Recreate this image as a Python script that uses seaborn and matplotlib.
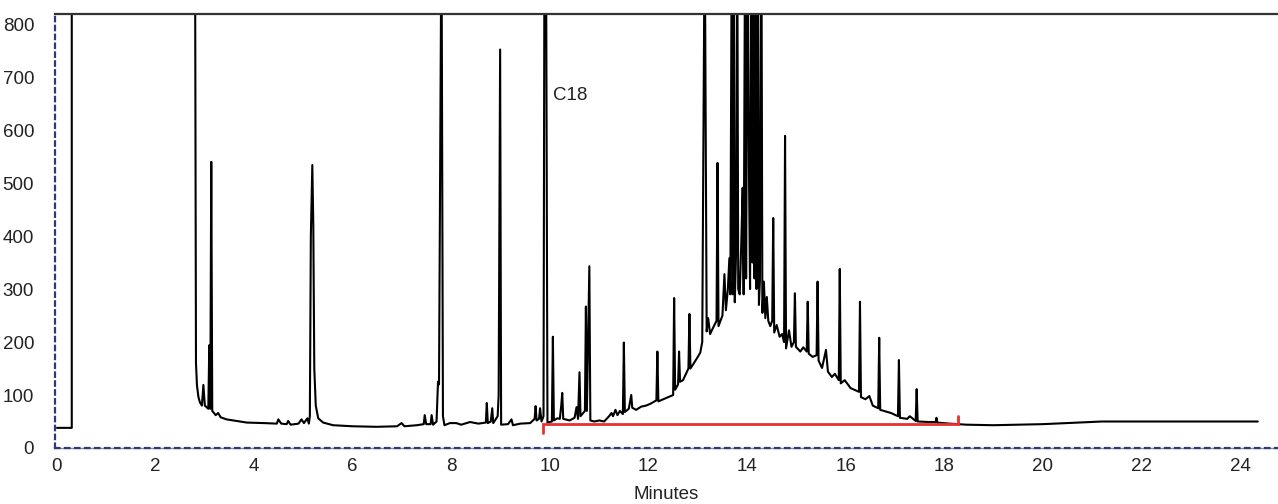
import matplotlib
matplotlib.use("Agg")
import matplotlib.pyplot as plt
import seaborn as sns
import pandas as pd

# ---- data (minutes, detector response) ----
minutes = [
    0.00, 0.30, 0.30, 2.80, 2.82, 2.84, 2.87, 2.90, 2.94, 2.97, 3.00, 3.07, 3.09, 3.11,
    3.13, 3.15, 3.22, 3.27, 3.32, 3.44, 3.85, 4.20, 4.46, 4.49, 4.55, 4.66, 4.69, 4.74,
    4.90, 4.96, 5.01, 5.08, 5.11, 5.13, 5.15, 5.18, 5.20, 5.22, 5.25, 5.30, 5.40, 5.60,
    6.00, 6.48, 6.90, 6.99, 7.05, 7.30, 7.44, 7.46, 7.49, 7.58, 7.60, 7.63, 7.70, 7.73,
    7.75, 7.80, 7.83, 7.86, 7.97, 8.10, 8.20, 8.38, 8.55, 8.70, 8.72, 8.74, 8.80, 8.83,
    8.85, 8.94, 8.96, 8.99, 9.01, 9.15, 9.22, 9.25, 9.40, 9.60, 9.69, 9.71, 9.73, 9.78,
    9.80, 9.83, 9.87, 9.89, 9.92, 9.95, 10.04, 10.06, 10.08, 10.15, 10.20, 10.23, 10.25,
    10.27, 10.40, 10.50, 10.54, 10.57, 10.60, 10.62, 10.71, 10.73, 10.75, 10.80, 10.82,
    10.90, 11.00, 11.10, 11.20, 11.25, 11.28, 11.33, 11.37, 11.42, 11.48, 11.50, 11.52,
    11.60, 11.65, 11.67, 11.75, 11.85, 11.95, 12.05, 12.16, 12.18, 12.20, 12.30, 12.40,
    12.50, 12.52, 12.54, 12.60, 12.62, 12.64, 12.70, 12.76, 12.81, 12.83, 12.85, 12.92,
    13.00, 13.05, 13.09, 13.14, 13.18, 13.21, 13.25, 13.30, 13.38, 13.40, 13.42, 13.50,
    13.54, 13.57, 13.61, 13.64, 13.66, 13.69, 13.71, 13.73, 13.75, 13.78, 13.80, 13.82,
    13.85, 13.88, 13.91, 13.93, 13.96, 13.98, 14.01, 14.04, 14.06, 14.09, 14.11, 14.13,
    14.15, 14.17, 14.19, 14.22, 14.24, 14.26, 14.29, 14.31, 14.34, 14.37, 14.40, 14.43,
    14.47, 14.51, 14.53, 14.55, 14.60, 14.66, 14.71, 14.75, 14.77, 14.79, 14.85, 14.90,
    14.95, 14.97, 14.99, 15.08, 15.14, 15.21, 15.23, 15.25, 15.33, 15.41, 15.43, 15.45,
    15.52, 15.60, 15.64, 15.72, 15.78, 15.86, 15.88, 15.90, 15.98, 16.10, 16.27, 16.29,
    16.31, 16.40, 16.48, 16.55, 16.66, 16.68, 16.70, 16.85, 16.92, 17.06, 17.08, 17.10,
    17.25, 17.30, 17.42, 17.44, 17.46, 17.70, 17.83, 17.84, 17.86, 18.10, 18.45, 19.00,
    19.50, 20.00, 20.50, 21.00, 21.20, 24.36,
]
response = [
    38, 38, 1000, 1000, 160, 118, 96, 86, 80, 119, 80, 74, 194, 74,
    540, 70, 62, 66, 58, 54, 48, 47, 46, 54, 46, 45, 51, 44,
    46, 54, 47, 56, 46, 60, 400, 534, 420, 150, 80, 56, 48, 43,
    41, 40, 41, 47, 41, 43, 45, 62, 45, 45, 62, 44, 50, 125,
    120, 1000, 60, 43, 47, 47, 44, 49, 46, 48, 85, 47, 50, 75,
    47, 60, 100, 752, 44, 45, 54, 43, 46, 47, 55, 79, 52, 55,
    75, 50, 60, 1000, 1000, 48, 50, 210, 52, 56, 55, 80, 104,
    55, 52, 57, 77, 55, 143, 60, 70, 267, 70, 343, 52,
    50, 52, 50, 60, 66, 60, 72, 62, 70, 64, 199, 68,
    74, 100, 76, 72, 78, 80, 84, 90, 182, 88, 92, 96,
    100, 283, 110, 120, 182, 125, 128, 140, 150, 253, 150, 160,
    172, 180, 200, 1000, 220, 245, 215, 225, 240, 538, 230, 250,
    328, 260, 300, 358, 290, 1000, 290, 1000, 275, 380, 1000, 300,
    290, 380, 491, 290, 1000, 320, 1000, 500, 300, 1000, 350, 1000,
    320, 1000, 300, 1000, 270, 317, 1000, 255, 314, 245, 285, 240,
    230, 240, 434, 218, 232, 210, 215, 200, 589, 188, 222, 191,
    200, 292, 191, 182, 190, 182, 276, 178, 172, 175, 314, 165,
    151, 185, 144, 134, 140, 128, 338, 122, 128, 113, 106, 276,
    96, 92, 98, 80, 75, 208, 72, 68, 66, 60, 166, 57,
    55, 60, 51, 111, 50, 49, 49, 57, 48, 46, 44, 43,
    44, 45, 47, 49, 50, 50,
]

bracket_minutes = [9.86, 18.28]     # red integration bracket
bracket_level = 45
bracket_left_end = 28
bracket_right_end = 60

label_text = "C18"
label_pos = (10.06, 666)

x_ticks = list(range(0, 25, 2))
y_ticks = list(range(0, 801, 100))

# ---- figure ----
sns.set_theme(style="white")
plt.rcParams["font.family"] = ["Liberation Sans", "DejaVu Sans"]

W, H = 1278, 504
fig = plt.figure(figsize=(W / 100, H / 100), dpi=100)
ax = fig.add_axes([55 / W, (H - 448) / H, (W - 55) / W, (448 - 14) / H])

df = pd.DataFrame({"Minutes": minutes, "Response": response})
sns.lineplot(data=df, x="Minutes", y="Response", ax=ax, color="black",
             linewidth=1.5, estimator=None, sort=False)

ax.plot([bracket_minutes[0], bracket_minutes[0], bracket_minutes[1], bracket_minutes[1]],
        [bracket_left_end, bracket_level, bracket_level, bracket_right_end],
        color="#e8302e", linewidth=2.0, solid_joinstyle="miter", zorder=3)

ax.text(label_pos[0], label_pos[1], label_text, fontsize=13.5, color="#222222",
        ha="left", va="center")

ax.set_xlim(-0.04, 24.77)
ax.set_ylim(0, 819)
ax.set_xticks(x_ticks)
ax.set_yticks(y_ticks)
ax.tick_params(axis="both", labelsize=13.5, labelcolor="#222222", length=0)
ax.tick_params(axis="x", pad=7)
ax.tick_params(axis="y", pad=15)
ax.set_xlabel("Minutes", fontsize=13.5, color="#222222", labelpad=8)
ax.set_ylabel("")

ax.spines["right"].set_visible(False)
ax.spines["top"].set_color("#333333")
ax.spines["top"].set_linewidth(1.6)
ax.spines["left"].set_color("#2b3a7e")
ax.spines["left"].set_linewidth(1.6)
ax.spines["left"].set_linestyle((0, (2, 2)))
ax.spines["bottom"].set_color("#2b3a7e")
ax.spines["bottom"].set_linewidth(1.6)
ax.spines["bottom"].set_linestyle((0, (2, 2.5)))
ax.axhline(0, color="#8a8a8a", linewidth=1.0, zorder=0.5, clip_on=False)

fig.savefig("out.png", dpi=100, facecolor="white")
